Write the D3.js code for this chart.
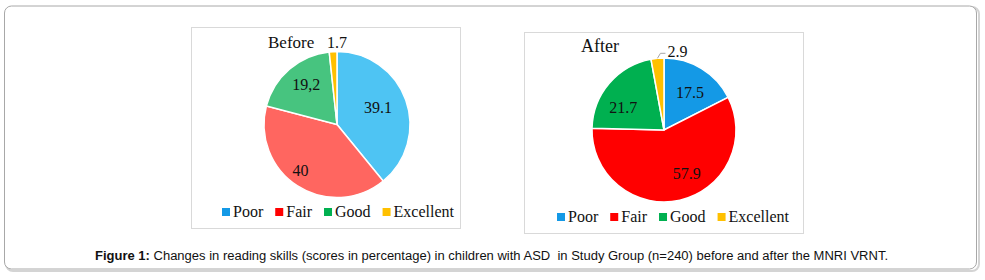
<html><head>
<title>Reading skills before and after</title>
<style>
body { margin: 0; background: #fff; }
svg { display: block; }
.serif { font-family: "Liberation Serif", "DejaVu Serif", serif; fill: #111; }
.cap { font-family: "Liberation Sans", Arial, sans-serif; fill: #111; white-space: pre; }
</style>
<script src="https://cdnjs.cloudflare.com/ajax/libs/d3/7.8.5/d3.min.js"></script>
</head>
<body>
<script>
// data
const categories = ["Poor", "Fair", "Good", "Excellent"];
const beforeValues = [39.1, 40, 19.2, 1.7];
const beforeLabels = ["39.1", "40", "19,2", "1.7"];
const afterValues = [17.5, 57.9, 21.7, 2.9];
const afterLabels = ["17.5", "57.9", "21.7", "2.9"];
const caption = "Changes in reading skills (scores in percentage) in children with ASD  in Study Group (n=240) before and after the MNRI VRNT.";

const legendColors = ["#1499e6", "#ff0000", "#00b050", "#ffc000"];

const W = 985, H = 280;
const svg = d3.select("body").append("svg")
  .attr("width", W)
  .attr("height", H);

// outer frame with a light shadow
svg.append("rect")
  .attr("x", 6).attr("y", 7).attr("width", 973).attr("height", 264)
  .attr("rx", 7).attr("fill", "none").attr("stroke", "#d4d4d4").attr("stroke-width", 2);
svg.append("rect")
  .attr("x", 4.5).attr("y", 6).attr("width", 972).attr("height", 263)
  .attr("rx", 7).attr("fill", "#fff").attr("stroke", "#a8a8a8").attr("stroke-width", 1);

// panel settings (layout only)
const panels = [
  {
    title: "Before", values: beforeValues, labels: beforeLabels,
    colors: ["#4ec4f3", "#ff6660", "#47c47f", "#ffc000"],
    box: [191.5, 27.5, 269, 201], cx: 337, cy: 124.5, r: 73,
    titleX: 268, titleY: 48, titleSize: 17,
    // label distance (fraction of radius) and angle nudge in degrees
    labelPos: [[0.61, -3], [0.8, 6], [0.69, 3], [1.12, 3]],
    leader: false,
    legendX: 222, legendY: 217
  },
  {
    title: "After", values: afterValues, labels: afterLabels,
    colors: ["#1499e6", "#ff0000", "#00b050", "#ffc000"],
    box: [524.5, 32.5, 279, 201], cx: 664, cy: 130, r: 72,
    titleX: 581, titleY: 52, titleSize: 18,
    labelPos: [[0.64, 3], [0.68, -15], [0.65, -11], [1.2, 0]],
    leader: true,
    legendX: 557, legendY: 222
  }
];

const pie = d3.pie().sort(null).value(d => d).startAngle(0).endAngle(2 * Math.PI);

panels.forEach(p => {
  svg.append("rect")
    .attr("x", p.box[0]).attr("y", p.box[1])
    .attr("width", p.box[2]).attr("height", p.box[3])
    .attr("fill", "#fff").attr("stroke", "#d9d9d9");

  const g = svg.append("g").attr("transform", `translate(${p.cx},${p.cy})`);
  const arcs = pie(p.values);
  const arc = d3.arc().innerRadius(0).outerRadius(p.r);

  g.selectAll("path.slice")
    .data(arcs)
    .join("path")
    .attr("class", "slice")
    .attr("d", arc)
    .attr("fill", (d, i) => p.colors[i])
    .attr("stroke", "#fff")
    .attr("stroke-width", 1.5);

  arcs.forEach((d, i) => {
    const [k, nudge] = p.labelPos[i];
    const a = (d.startAngle + d.endAngle) / 2 + nudge * Math.PI / 180;
    let x = Math.sin(a) * p.r * k;
    let y = -Math.cos(a) * p.r * k;
    let anchor = "middle";
    if (p.leader && i === 3) {
      // leader line from slice edge to the outside label
      const ex = Math.sin(a) * p.r, ey = -Math.cos(a) * p.r;
      const kx = ex + 3, ky = ey - 5;
      g.append("polyline")
        .attr("points", `${ex},${ey} ${kx},${ky} ${kx + 5},${ky}`)
        .attr("fill", "none").attr("stroke", "#a6a6a6").attr("stroke-width", 1);
      x = kx + 7; y = ky - 2; anchor = "start";
    }
    g.append("text")
      .attr("class", "serif")
      .attr("x", x).attr("y", y)
      .attr("dy", "0.35em")
      .attr("text-anchor", anchor)
      .attr("font-size", 16)
      .text(p.labels[i]);
  });

  svg.append("text")
    .attr("class", "serif")
    .attr("x", p.titleX).attr("y", p.titleY)
    .attr("font-size", p.titleSize)
    .text(p.title);

  // legend laid out left to right
  let lx = p.legendX;
  categories.forEach((c, i) => {
    svg.append("rect")
      .attr("x", lx).attr("y", p.legendY - 9)
      .attr("width", 8).attr("height", 8)
      .attr("fill", legendColors[i]);
    const t = svg.append("text")
      .attr("class", "serif")
      .attr("x", lx + 11).attr("y", p.legendY)
      .attr("font-size", 16)
      .text(c);
    lx += 11 + t.node().getComputedTextLength() + 12;
  });
});

// caption
const cap = svg.append("text")
  .attr("class", "cap")
  .attr("x", 95).attr("y", 260)
  .attr("font-size", 12.5)
  .attr("textLength", 793)
  .attr("lengthAdjust", "spacingAndGlyphs");
cap.append("tspan").attr("font-weight", "bold").text("Figure 1:");
cap.append("tspan").text(" " + caption);
</script>
</body>
</html>
